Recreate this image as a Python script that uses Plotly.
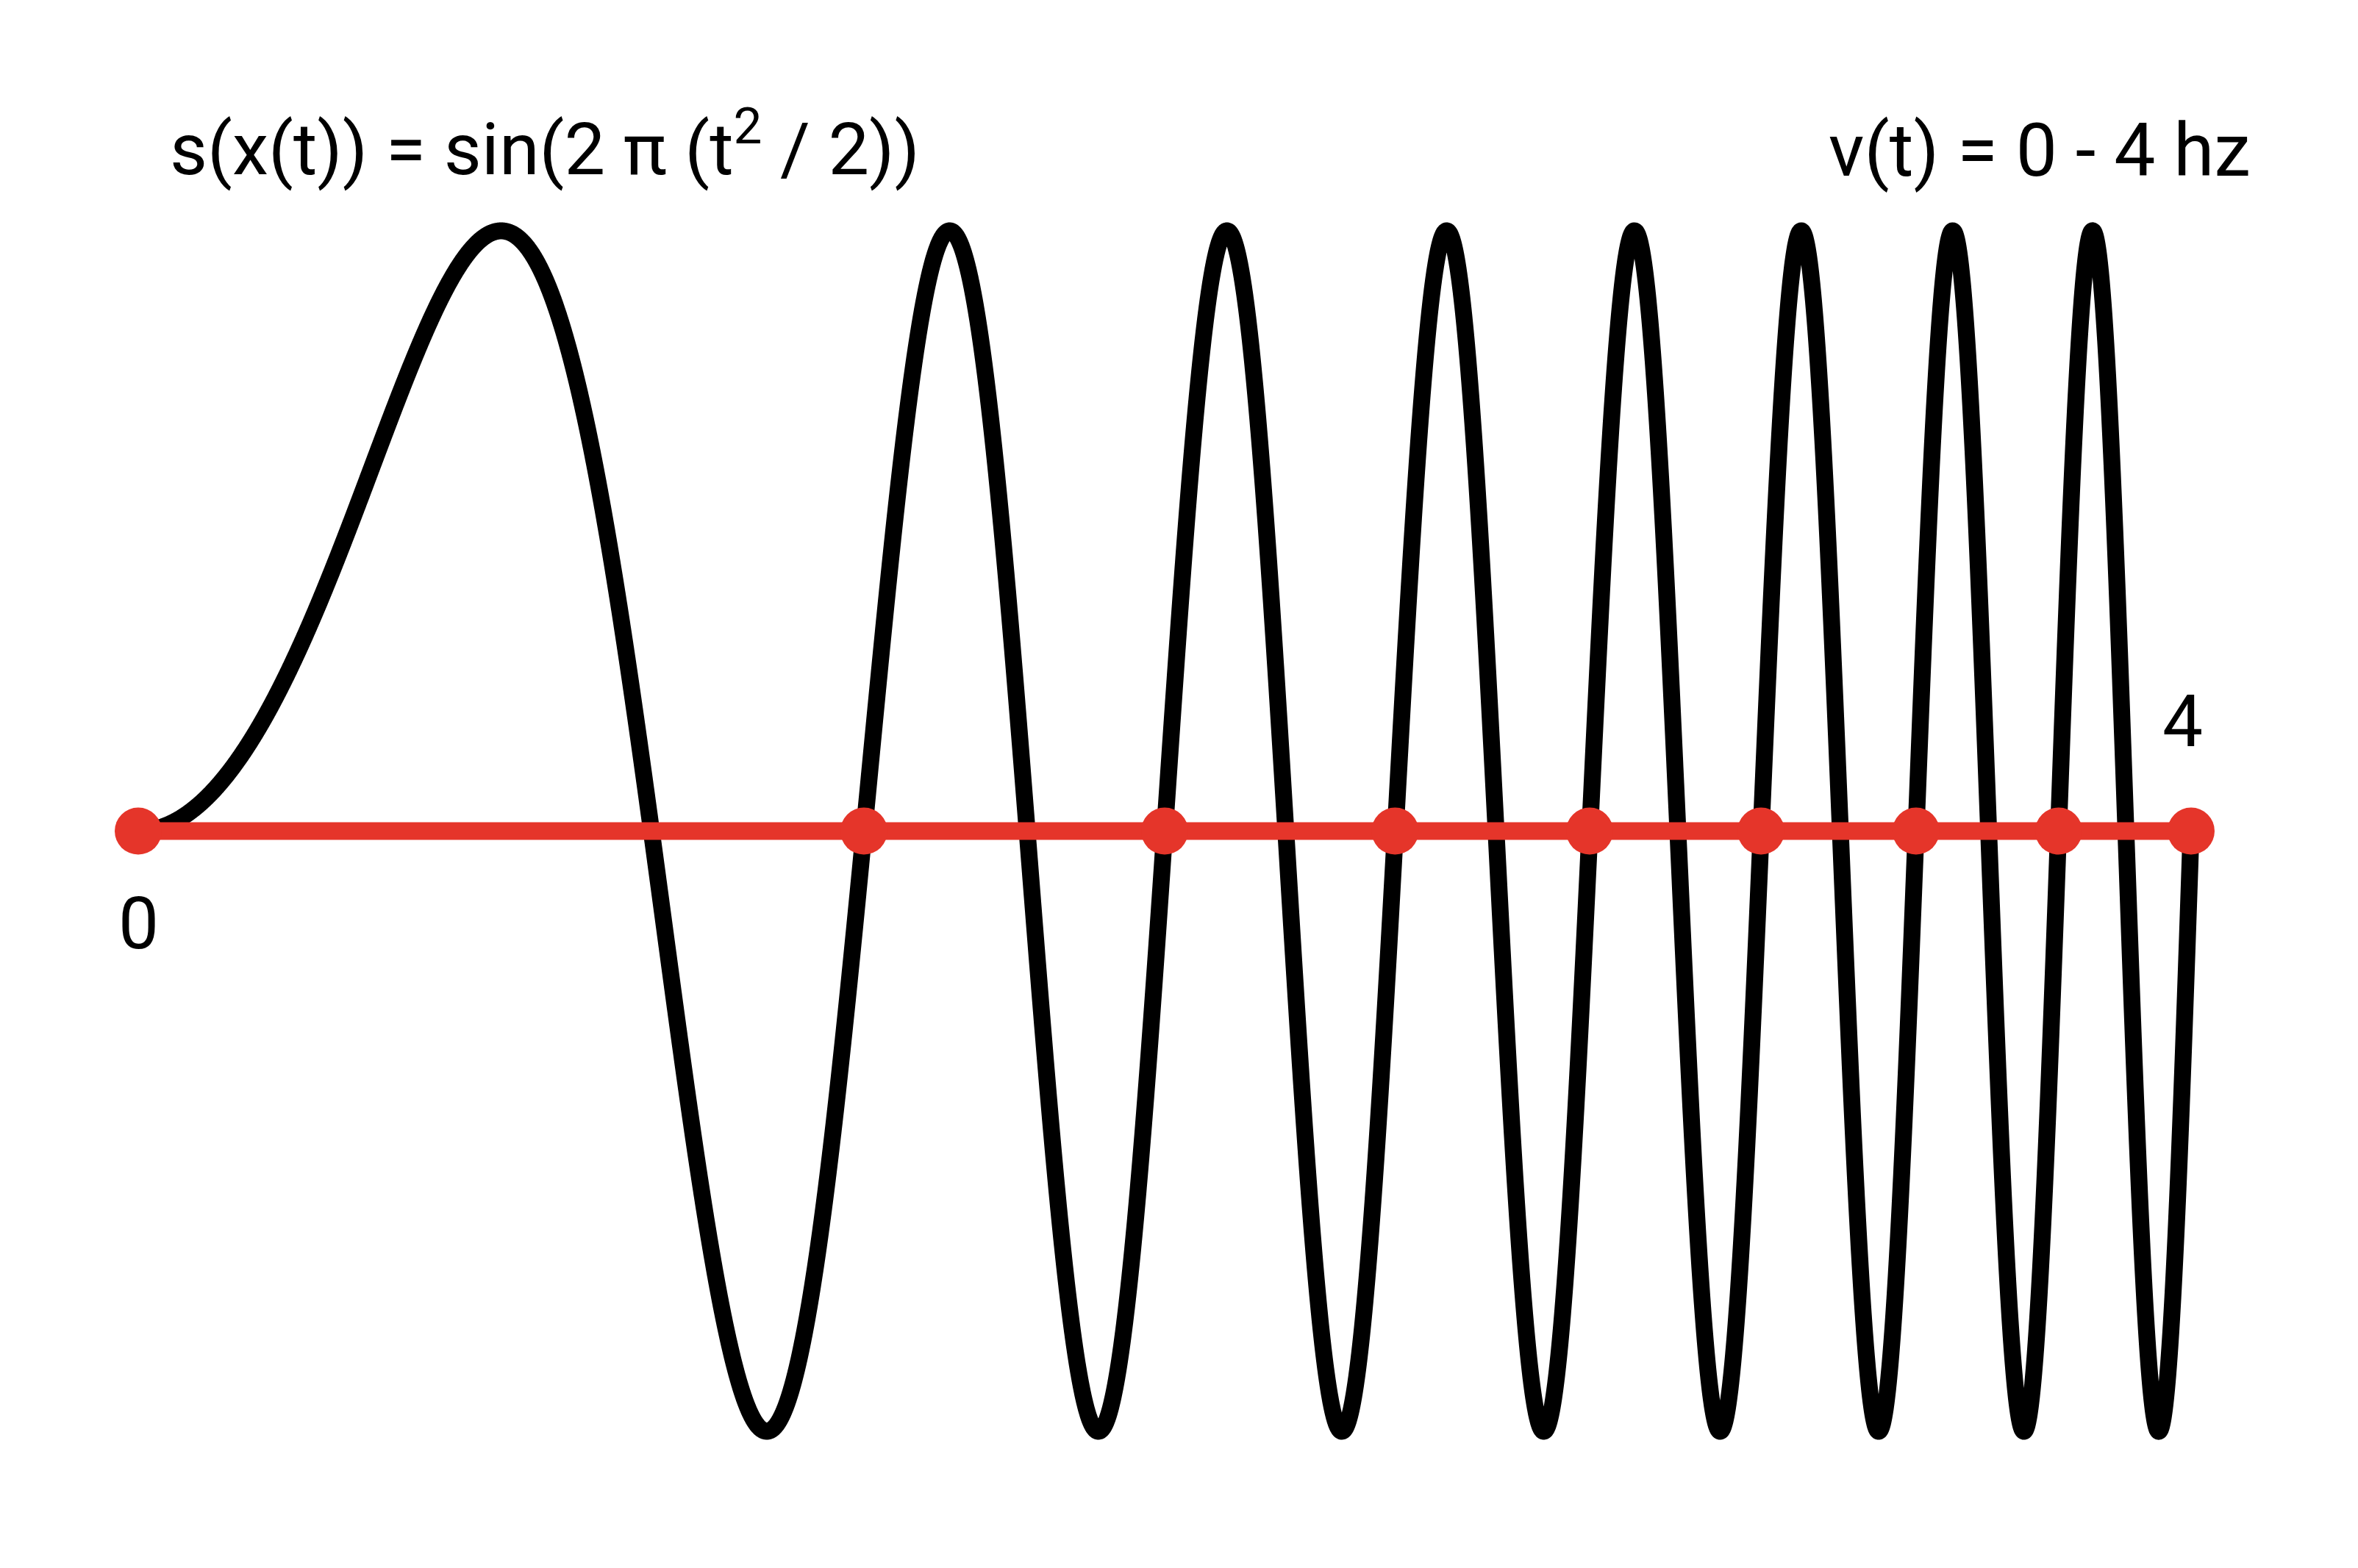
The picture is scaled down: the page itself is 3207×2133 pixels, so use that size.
import numpy as np
import plotly.graph_objects as go

# --- data ---
t_start, t_end = 0.0, 4.0
zero_crossings = [0.0, 1.414, 2.0, 2.449, 2.828, 3.162, 3.464, 3.742, 4.0]
end_labels = ["0", "4"]
title_left = "s(x(t)) = sin(2 π (t<sup>2</sup> / 2))"
title_right = "v(t) = 0 - 4 hz"

# chirp curve as stated in the chart's own title
t = np.linspace(t_start, t_end, 8000)
s = np.sin(2 * np.pi * (t ** 2 / 2))

RED = "#E5352A"
FONT = "Roboto"

fig = go.Figure()
fig.add_trace(go.Scatter(x=t, y=s, mode="lines",
                         line=dict(color="black", width=23, simplify=False),
                         hoverinfo="skip"))
fig.add_trace(go.Scatter(x=[t_start, t_end], y=[0, 0], mode="lines",
                         line=dict(color=RED, width=24), hoverinfo="skip"))
fig.add_trace(go.Scatter(x=zero_crossings, y=[0] * len(zero_crossings), mode="markers",
                         marker=dict(color=RED, size=64, line=dict(width=0)), hoverinfo="skip"))

fig.add_annotation(x=t_start, y=-0.154, xref="x", yref="y", text=end_labels[0],
                   showarrow=False, font=dict(family=FONT, size=98, color="black"),
                   xanchor="center", yanchor="middle")
fig.add_annotation(x=3.984, y=0.182, xref="x", yref="y", text=end_labels[1],
                   showarrow=False, font=dict(family=FONT, size=98, color="black"),
                   xanchor="center", yanchor="middle")
fig.add_annotation(x=0.0693, y=0.911, xref="paper", yref="paper", text=title_left,
                   showarrow=False, font=dict(family=FONT, size=99, color="black"),
                   xanchor="left", yanchor="middle")
fig.add_annotation(x=0.9575, y=0.907, xref="paper", yref="paper", text=title_right,
                   showarrow=False, font=dict(family=FONT, size=100, color="black"),
                   xanchor="right", yanchor="middle")

fig.update_layout(
    width=3191, height=2117,
    margin=dict(l=0, r=0, t=0, b=0),
    paper_bgcolor="white", plot_bgcolor="white",
    showlegend=False,
    xaxis=dict(range=[-0.2579, 4.3138], visible=False, fixedrange=True),
    yaxis=dict(range=[-1.2180, 1.3748], visible=False, fixedrange=True),
)
fig.write_html("out.html")
